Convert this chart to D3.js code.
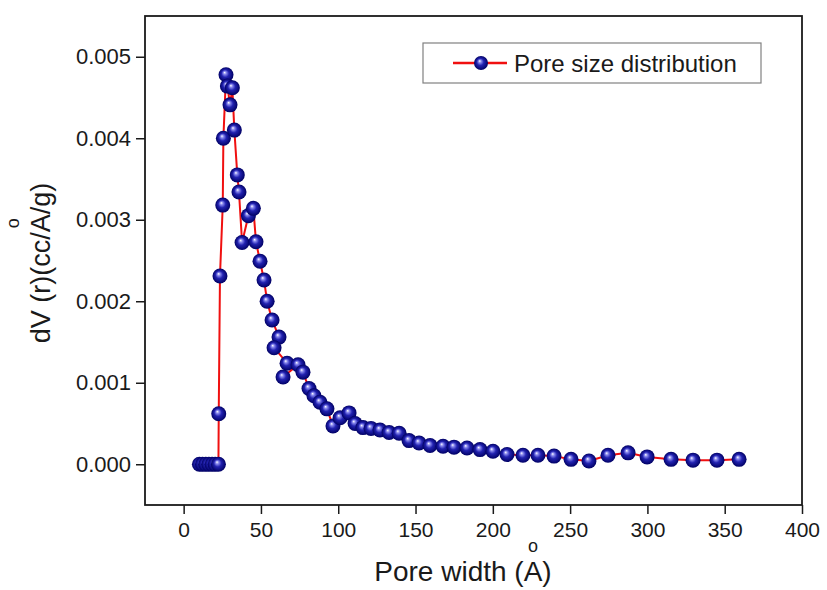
<!DOCTYPE html>
<html>
<head>
<meta charset="utf-8">
<script src="https://cdn.jsdelivr.net/npm/d3@7"></script>
<style>
  body { margin: 0; background: #fff; }
  text { font-family: "Liberation Sans", Arial, sans-serif; fill: #1a1a1a; }
</style>
</head>
<body>
<svg id="chart" width="827" height="590"></svg>
<script>
// pore width (A) and dV(r)
var poreWidth = [10.2, 12.2, 14.3, 16.3, 18.4, 20.4, 22.5, 22.7, 23.5, 25.3, 25.7, 27.4, 28.3, 30.0, 31.5,
  32.8, 34.7, 35.8, 37.8, 41.9, 45.1, 46.8, 49.4, 52.0, 54.0, 57.2, 61.7, 58.5, 66.9, 64.3, 74.0, 77.2,
  81.1, 84.3, 88.2, 92.7, 96.6, 101.2, 107.0, 110.9, 116.0, 121.2, 127.0, 132.9, 139.4, 145.8, 152.3,
  159.4, 167.8, 174.9, 183.3, 191.7, 200.1, 209.2, 219.5, 229.2, 239.6, 250.6, 262.2, 274.5, 287.5,
  299.8, 315.3, 329.5, 345.0, 359.3];
var dV = [0, 0, 0, 0, 0, 0, 0, 0.00062, 0.00231, 0.00318, 0.0040, 0.00478, 0.00464, 0.00441, 0.00462,
  0.0041, 0.00355, 0.00334, 0.00272, 0.00305, 0.00314, 0.00273, 0.00249, 0.00226, 0.0020, 0.00177, 0.00156,
  0.00143, 0.00124, 0.00107, 0.00122, 0.00113, 0.00093, 0.00084, 0.00076, 0.00068, 0.00047, 0.00057,
  0.00063, 0.00050, 0.00045, 0.00044, 0.00042, 0.00039, 0.00038, 0.00029, 0.00026, 0.00023, 0.00022,
  0.00021, 0.00020, 0.00018, 0.00016, 0.00012, 0.00011, 0.00011, 0.00010, 0.00006, 0.00004, 0.00011,
  0.00014, 0.00009, 0.00006, 0.00005, 0.00005, 0.00006];
var xTicks = [0, 50, 100, 150, 200, 250, 300, 350, 400];
var yTicks = [0, 0.001, 0.002, 0.003, 0.004, 0.005];
var seriesName = "Pore size distribution";

var data = poreWidth.map((w, i) => ({ x: w, y: dV[i] }));

var svg = d3.select('#chart');
var pLeft = 145, pRight = 802, pTop = 16, pBottom = 505;

var x = d3.scaleLinear().domain([-25, 400]).range([pLeft, pRight]);
var y = d3.scaleLinear().domain([-0.0005, 0.0055]).range([pBottom, pTop]);

// shaded ball marker
var grad = svg.append('defs').append('radialGradient')
  .attr('id', 'ball').attr('cx', '50%').attr('cy', '50%').attr('r', '50%')
  .attr('fx', '40%').attr('fy', '35%');
grad.append('stop').attr('offset', '0%').attr('stop-color', '#ffffff');
grad.append('stop').attr('offset', '20%').attr('stop-color', '#8a8aee');
grad.append('stop').attr('offset', '50%').attr('stop-color', '#2222b0');
grad.append('stop').attr('offset', '100%').attr('stop-color', '#000064');

// axes
var yAxis = svg.append('g')
  .attr('transform', 'translate(' + pLeft + ',0)')
  .call(d3.axisLeft(y).tickValues(yTicks).tickFormat(d3.format('.3f')).tickSize(9).tickPadding(5));
var xAxis = svg.append('g')
  .attr('transform', 'translate(0,' + pBottom + ')')
  .call(d3.axisBottom(x).tickValues(xTicks).tickFormat(d3.format('d')).tickSize(9).tickPadding(8));
[xAxis, yAxis].forEach(a => {
  a.attr('font-size', null).attr('font-family', null);
  a.select('.domain').remove();
  a.selectAll('line').attr('stroke', '#1a1a1a').attr('stroke-width', 1.5);
  a.selectAll('text').style('font-size', '21px').attr('fill', '#1a1a1a');
});
yAxis.selectAll('text').style('font-size', '22px');

// line + markers
svg.append('path')
  .datum(data)
  .attr('fill', 'none')
  .attr('stroke', '#f01010')
  .attr('stroke-width', 2)
  .attr('d', d3.line().x(d => x(d.x)).y(d => y(d.y)));

svg.append('g').selectAll('circle')
  .data(data)
  .enter()
  .append('circle')
  .attr('cx', d => x(d.x))
  .attr('cy', d => y(d.y))
  .attr('r', 7.5)
  .attr('fill', 'url(#ball)');

// frame
svg.append('rect')
  .attr('x', pLeft).attr('y', pTop)
  .attr('width', pRight - pLeft).attr('height', pBottom - pTop)
  .attr('fill', 'none').attr('stroke', '#1a1a1a').attr('stroke-width', 1.8);

// legend
var lg = svg.append('g');
lg.append('rect').attr('x', 423).attr('y', 43).attr('width', 338).attr('height', 40)
  .attr('fill', '#fff').attr('stroke', '#808080').attr('stroke-width', 1.2);
lg.append('line').attr('x1', 453).attr('x2', 507).attr('y1', 63).attr('y2', 63)
  .attr('stroke', '#f01010').attr('stroke-width', 2.5);
lg.append('circle').attr('cx', 481).attr('cy', 63).attr('r', 7).attr('fill', 'url(#ball)');
lg.append('text').attr('x', 514).attr('y', 72).style('font-size', '24px').text(seriesName);

// axis titles, with the ring over the A
var xt = svg.append('text')
  .attr('x', 463).attr('y', 581)
  .attr('text-anchor', 'middle')
  .style('font-size', '28px')
  .text('Pore width (A)');
var xn = xt.node();
var ax = (xn.getStartPositionOfChar(12).x + xn.getEndPositionOfChar(12).x) / 2;
svg.append('text').attr('x', ax).attr('y', 581 - 29).attr('text-anchor', 'middle')
  .style('font-size', '18px').text('o');

var yg = svg.append('g').attr('transform', 'translate(50,263) rotate(-90)');
var yt = yg.append('text')
  .attr('x', 0).attr('y', 0)
  .attr('text-anchor', 'middle')
  .style('font-size', '27px')
  .text('dV (r)(cc/A/g)');
var yn = yt.node();
var ay = (yn.getStartPositionOfChar(10).x + yn.getEndPositionOfChar(10).x) / 2;
yg.append('text').attr('x', ay).attr('y', -31).attr('text-anchor', 'middle')
  .style('font-size', '18px').text('o');
</script>
</body>
</html>
